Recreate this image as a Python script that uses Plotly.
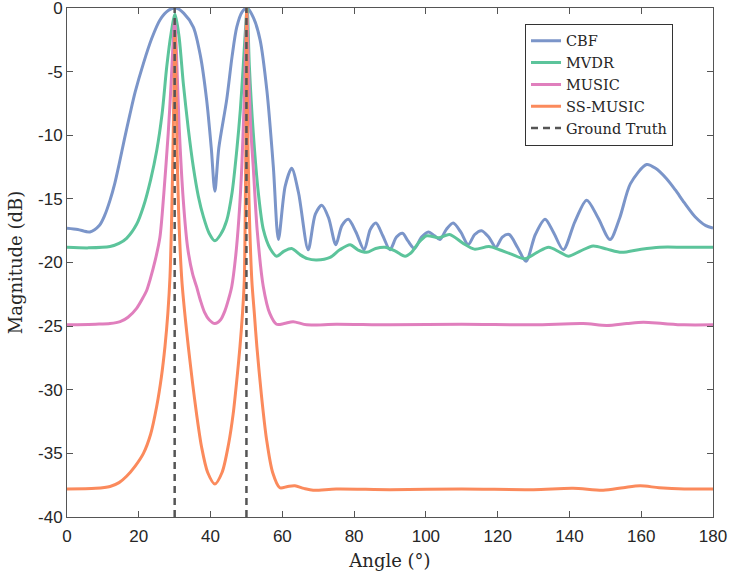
import plotly.graph_objects as go

# ---------------- data ----------------
cbf_angle = [0, 3, 6.4, 9, 10.5, 12, 13.3, 14.5, 16, 17.5, 19, 21.3, 23.6, 25.9, 28.2, 30.4,
             32.5, 35.2, 37.2, 38.9, 40.2, 41.2, 42.3, 44.5, 46, 47.3, 48.8, 50.2, 52, 53.8,
             55.7, 57.5, 58.9, 60.8, 62.6, 64.5, 67.2, 69.2, 71.0, 72.9, 74.9, 76.6, 78.4, 80.5,
             82.8, 84.5, 86.1, 88, 90.0, 91.8, 93.5, 95, 96.8, 98.8, 100.7, 102.4, 103.9, 105.7,
             107.6, 109.7, 111.8, 113.6, 115.5, 117.5, 119.5, 121.3, 123.2, 125.5, 127.9, 130.5,
             133.2, 135.5, 138.3, 141.5, 144.8, 148, 151.3, 154, 157, 161.5, 164, 167, 169.5,
             172, 175, 178, 180]
cbf_db = [-17.3, -17.4, -17.6, -17.1, -16.3, -15.1, -13.8, -12.3, -10.3, -8.4, -6.6, -4.35,
          -2.4, -0.94, -0.2, 0.0, -0.4, -1.5, -3.8, -7.2, -11.0, -14.4, -11.0, -7.2, -3.8, -1.5,
          -0.3, 0.0, -0.8, -2.5, -6.5, -12.5, -18.2, -14.0, -12.6, -14.5, -19.0, -16.2, -15.5,
          -16.5, -18.6, -17.1, -16.6, -17.6, -19.0, -17.4, -16.9, -17.9, -19.0, -18.0, -17.7,
          -18.3, -18.9, -18.0, -17.6, -17.9, -18.2, -17.4, -16.9, -17.6, -18.6, -17.8, -17.5,
          -18.0, -18.8, -18.0, -17.8, -18.8, -19.9, -17.8, -16.6, -17.6, -19.0, -16.8, -15.1,
          -16.5, -18.2, -16.5, -13.8, -12.3, -12.6, -13.4, -14.3, -15.3, -16.4, -17.1, -17.3]

mvdr_angle = [0, 6, 12, 14.5, 16.6, 19.4, 21.3, 23.3, 25, 26.5, 27.8, 29, 30.1, 31.2, 32.4,
              33.8, 35.2, 36.6, 38, 39.6, 41.2, 42.8, 44.5, 46, 47.3, 48.3, 49.1, 49.7, 50.2,
              50.8, 51.9, 53.3, 54.7, 56.6, 58.4, 60.5, 62.6, 65, 67, 69.6, 73.3, 76, 78.9, 81,
              83.5, 86, 88.6, 91.5, 94.2, 96, 97.8, 100.2, 103.7, 106.6, 110.4, 113.5, 117.6,
              120.5, 123.4, 127.6, 131, 134.2, 137.4, 139.7, 143, 146.6, 150.5, 154.5, 160,
              165.2, 172, 180]
mvdr_db = [-18.8, -18.85, -18.75, -18.5, -18.1, -17.0, -15.6, -13.5, -11.2, -8.3, -4.6, -2.0,
           -0.5, -2.2, -5.9, -9.5, -12.5, -14.8, -16.4, -17.7, -18.3, -17.8, -16.7, -14.5, -11.2,
           -8.0, -4.6, -1.8, 0.0, -4.5, -9.8, -14.5, -17.4, -18.9, -19.5, -19.1, -18.9, -19.4,
           -19.7, -19.8, -19.6, -19.0, -18.6, -19.0, -19.2, -18.9, -18.8, -19.1, -19.5, -19.2,
           -18.5, -17.9, -18.05, -17.8, -18.5, -18.95, -18.75, -19.0, -19.3, -19.7, -19.2,
           -18.8, -19.2, -19.5, -19.1, -18.7, -18.95, -19.2, -18.95, -18.8, -18.8, -18.8]

music_angle = [0, 8, 12, 14.8, 17, 19.4, 21.3, 22.2, 23.1, 24.6, 25.9, 27, 28.2, 29, 29.6,
               30.0, 30.5, 31.2, 32.4, 33.6, 35, 36.1, 37.2, 38.3, 39.6, 41.2, 42.8, 44, 45,
               45.9, 47, 47.9, 48.7, 49.4, 49.9, 50.1, 50.6, 51.2, 51.9, 53, 54.7, 56.5, 58.4,
               60.5, 63, 66.8, 75, 90, 110, 130, 143.8, 150.4, 156, 160.6, 166, 172, 180]
music_db = [-24.9, -24.85, -24.8, -24.65, -24.3, -23.6, -22.7, -22.2, -21.4, -19.8, -18.0,
            -14.5, -9.85, -6.0, -2.5, -1.0, -3.5, -9.0, -15.1, -18.8, -20.9, -21.9, -23.0,
            -23.9, -24.5, -24.8, -24.5, -23.8, -22.9, -21.9, -19.5, -16.5, -12.5, -7.0, -1.8,
            -0.3, -5.0, -9.5, -12.5, -17.5, -21.9, -24.0, -24.85, -24.8, -24.65, -24.9, -24.85,
            -24.9, -24.85, -24.9, -24.8, -24.95, -24.8, -24.7, -24.8, -24.9, -24.9]

ss_angle = [0, 8, 12, 14.5, 16.6, 19, 21.3, 23.3, 25, 26.3, 27.3, 28.1, 28.7, 29.2, 29.6,
            29.9, 30.05, 30.3, 30.6, 31.1, 32, 33, 33.8, 35, 36.1, 37.5, 39.2, 41.2, 43.2, 45,
            46.3, 47.4, 48.2, 48.9, 49.4, 49.7, 49.9, 50.05, 50.3, 50.7, 51.5, 52.2, 52.9, 54.2,
            55.6, 57.3, 59.3, 61.5, 63.5, 66, 68.6, 75, 90, 110, 130, 141, 149.4, 155, 159.7,
            165, 172, 180]
ss_db = [-37.8, -37.75, -37.6, -37.3, -36.8, -36.0, -35.0, -33.5, -31.3, -29.0, -26.6, -24.0,
         -21.1, -16.0, -9.85, -4.5, -2.0, -4.5, -10.0, -16.0, -21.4, -24.5, -26.6, -29.5, -31.9,
         -34.5, -36.5, -37.4, -36.5, -34.3, -31.9, -29.0, -26.6, -24.0, -21.4, -15.0, -8.0, 0.0,
         -8.0, -15.0, -21.4, -24.0, -26.6, -30.5, -33.9, -36.5, -37.7, -37.6, -37.55, -37.75,
         -37.9, -37.8, -37.85, -37.8, -37.85, -37.75, -37.9, -37.7, -37.55, -37.7, -37.8, -37.8]

truth_angles = [30, 50]
names = ["CBF", "MVDR", "MUSIC", "SS-MUSIC", "Ground Truth"]
colors = ["#7b95c9", "#5cc49b", "#e07fbd", "#fb8a5c", "#555555"]

x_ticks = list(range(0, 181, 20))
y_ticks = list(range(-40, 1, 5))
x_tick_labels = [str(v) for v in x_ticks]
y_tick_labels = [str(v) for v in y_ticks]

# ---------------- figure ----------------
fig = go.Figure()
series = [(cbf_angle, cbf_db), (mvdr_angle, mvdr_db), (music_angle, music_db), (ss_angle, ss_db)]
for (xa, ya), nm, col in zip(series, names[:4], colors[:4]):
    fig.add_trace(go.Scatter(x=xa, y=ya, mode="lines", name=nm,
                             line=dict(color=col, width=3, shape="spline", smoothing=0.8)))

gt_x, gt_y = [], []
for a in truth_angles:
    gt_x += [a, a, None]
    gt_y += [y_ticks[0], y_ticks[-1], None]
fig.add_trace(go.Scatter(x=gt_x, y=gt_y, mode="lines", name=names[4],
                         line=dict(color=colors[4], width=2.5, dash="7px,5px")))

axis_common = dict(showgrid=False, zeroline=False, showline=True, mirror="ticks",
                   linecolor="#555555", linewidth=1, ticks="inside", ticklen=6,
                   tickcolor="#555555", ticklabeloverflow="allow", automargin=False,
                   tickfont=dict(family="Liberation Sans", size=17, color="#262626"))
title_font = dict(family="DejaVu Serif", size=18, color="#262626")

fig.update_layout(
    width=730, height=578,
    margin=dict(l=67, r=17, t=8, b=61, autoexpand=False),
    paper_bgcolor="white", plot_bgcolor="white",
    xaxis=dict(range=[0, 180], tickvals=x_ticks, ticktext=x_tick_labels,
               ticklabelstandoff=4,
               title=dict(text="Angle (°)", standoff=8, font=title_font),
               **axis_common),
    yaxis=dict(range=[-40, 0], tickvals=y_ticks, ticktext=y_tick_labels,
               title=dict(text="Magnitude (dB)", standoff=10, font=title_font),
               **axis_common),
    legend=dict(x=0.709, y=0.969, xanchor="left", yanchor="top",
                bgcolor="white", bordercolor="#333333", borderwidth=1,
                font=dict(family="DejaVu Serif", size=14.5, color="#262626")),
    showlegend=True,
)

fig.write_html("out.html", config={"displayModeBar": False},
               post_script="document.body.style.margin='0';document.body.style.overflow='hidden';")
